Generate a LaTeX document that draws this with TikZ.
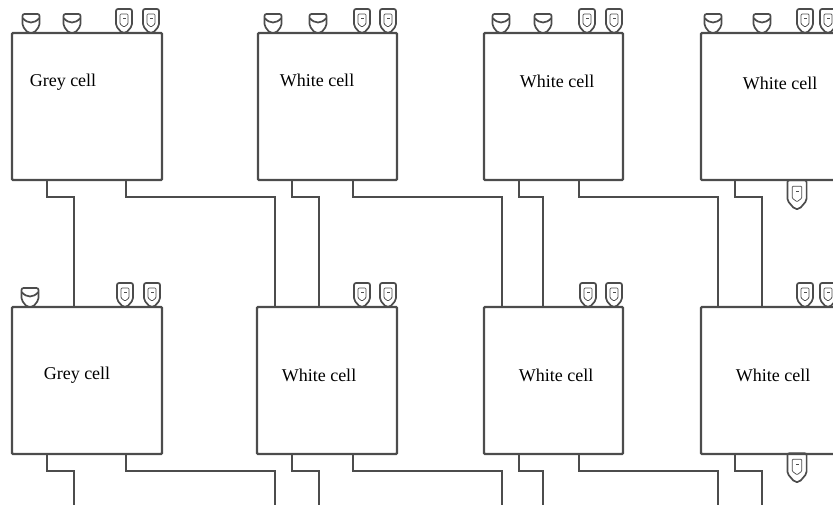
\documentclass[tikz,border=0pt]{standalone}
\usepackage{fontspec}
\setmainfont{Liberation Serif}
\usetikzlibrary{calc}

\tikzset{
	cell/.style = {draw=black!70, line width=2.4pt, rounded corners=1pt, anchor=north west,
		minimum width=#1, minimum height=147pt, inner sep=0pt, outer sep=0pt},
	cell/.default = 139pt,
	wire/.style = {draw=black!70, line width=2.4pt},
	port/.style = {draw=black!70, line width=1.7pt, rounded corners=2pt, fill=white},
	celltext/.style = {font=\fontsize{18}{20}\selectfont},
	cup/.pic = {
		\draw[port] (-3,0)--(-8.5,-7)--(-8.5,-19)--(8.5,-19)--(8.5,-7)--(3,0)--cycle;
		\draw[port, fill=none, rounded corners=0pt] (-8.5,-15) .. controls (-3,-9) and (3,-9) .. (8.5,-15);
	},
	tap/.pic = {
		\draw[port] (-2,0)--(-8,-7)--(-8,-24)--(8,-24)--(8,-7)--(2,0)--cycle;
		\draw[port, line width=0.7pt, rounded corners=1pt] (-4,-9)--(-4,-19)--(4,-19)--(4,-9)--(0,-6)--cycle;
		\draw[line width=0.7pt, draw=black!70] (-1,-15)--(2,-15);
	}
}

\begin{document}
\begin{tikzpicture}[x=1pt, y=-1pt]
	\useasboundingbox (0,0) rectangle (833,504);
	\clip (0,0) rectangle (833,504);
	% ports on the top edges
	\foreach \x in {31,72,273,318,501,543,713,762} \pic at (\x,33) {cup};
	\foreach \x in {124,151,362,388,587,614,805,828} \pic at (\x,33) {tap};
	\pic at (30,307) {cup};
	\foreach \x in {125,152,362,388,588,614,805,828} \pic at (\x,307) {tap};
	% ports hanging below the last column
	\pic[scale=1.2] at (797,209) {tap};
	\pic[scale=1.2] at (797,482) {tap};
	% cells
	\node[cell=150pt] (top1) at (12,33) {};
	\node[cell] (top2) at (258,33) {};
	\node[cell] (top3) at (484,33) {};
	\node[cell=150pt] (top4) at (701,33) {};
	\node[cell=150pt] (bot1) at (12,307) {};
	\node[cell=140pt] (bot2) at (257,307) {};
	\node[cell] (bot3) at (484,307) {};
	\node[cell=150pt] (bot4) at (701,307) {};
	\node[celltext] (lab1) at (63,82) {Grey cell};
	\node[celltext] (lab2) at (317,80) {White cell};
	\node[celltext] (lab3) at (557,81) {White cell};
	\node[celltext] (lab4) at (780,83) {White cell};
	\node[celltext] (lab5) at (77,375) {Grey cell};
	\node[celltext] (lab6) at (319,375) {White cell};
	\node[celltext] (lab7) at (556,375) {White cell};
	\node[celltext] (lab8) at (773,375) {White cell};
	% wires between the rows
	\draw[wire] ([xshift=35pt]top1.south west) -- ++(0,17) -| ([xshift=62pt]bot1.north west);
	\draw[wire] ([xshift=114pt]top1.south west) -- ++(0,17) -| ([xshift=18pt]bot2.north west);
	\draw[wire] ([xshift=34pt]top2.south west) -- ++(0,17) -| ([xshift=62pt]bot2.north west);
	\draw[wire] ([xshift=95pt]top2.south west) -- ++(0,17) -| ([xshift=18pt]bot3.north west);
	\draw[wire] ([xshift=35pt]top3.south west) -- ++(0,17) -| ([xshift=59pt]bot3.north west);
	\draw[wire] ([xshift=95pt]top3.south west) -- ++(0,17) -| ([xshift=17pt]bot4.north west);
	\draw[wire] ([xshift=34pt]top4.south west) -- ++(0,17) -| ([xshift=61pt]bot4.north west);
	% wires leaving the bottom row
	\coordinate (out1) at (74,510);
	\coordinate (out2) at (275,510);
	\coordinate (out3) at (319,510);
	\coordinate (out4) at (502,510);
	\coordinate (out5) at (543,510);
	\coordinate (out6) at (718,510);
	\coordinate (out7) at (762,510);
	\draw[wire] ([xshift=35pt]bot1.south west) -- ++(0,17) -| (out1);
	\draw[wire] ([xshift=114pt]bot1.south west) -- ++(0,17) -| (out2);
	\draw[wire] ([xshift=35pt]bot2.south west) -- ++(0,17) -| (out3);
	\draw[wire] ([xshift=96pt]bot2.south west) -- ++(0,17) -| (out4);
	\draw[wire] ([xshift=35pt]bot3.south west) -- ++(0,17) -| (out5);
	\draw[wire] ([xshift=95pt]bot3.south west) -- ++(0,17) -| (out6);
	\draw[wire] ([xshift=34pt]bot4.south west) -- ++(0,17) -| (out7);
\end{tikzpicture}
\end{document}
